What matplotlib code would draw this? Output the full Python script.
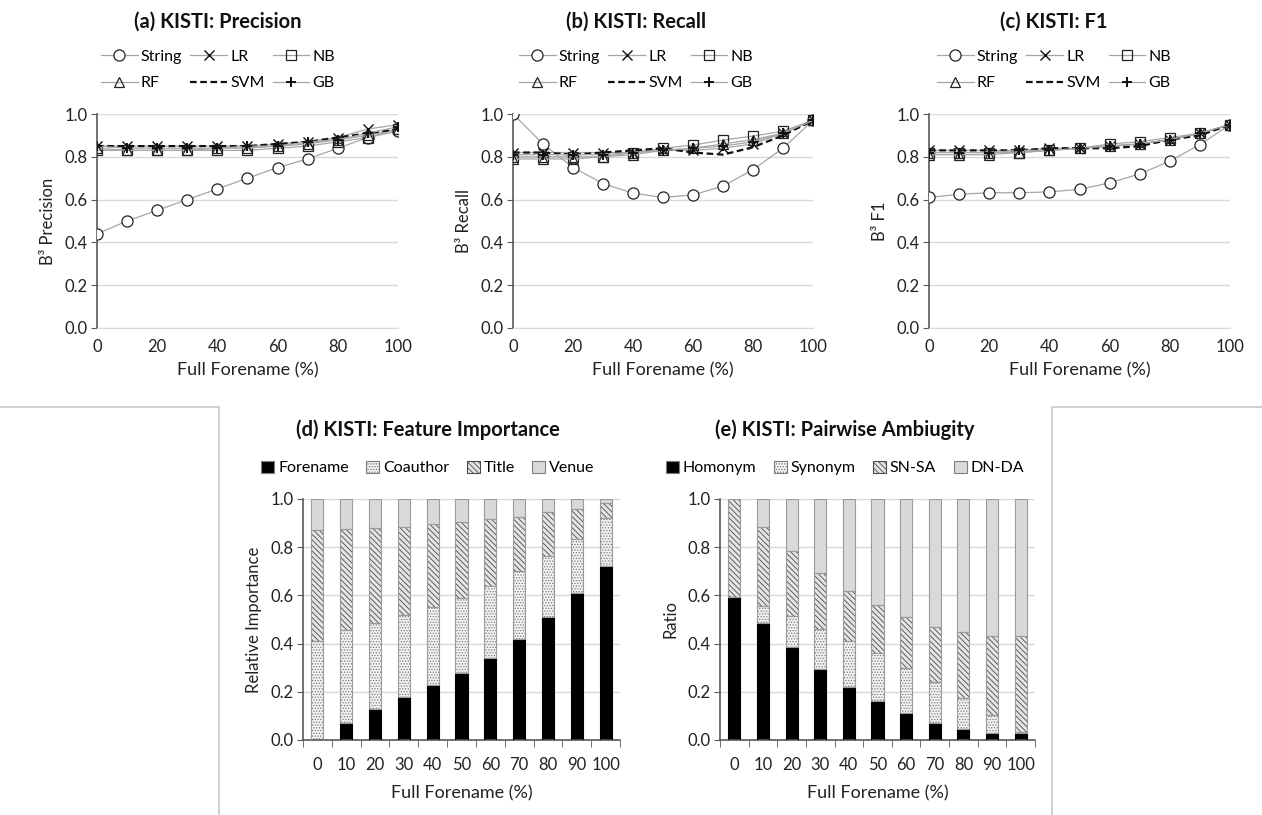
import matplotlib
matplotlib.use("Agg")
import matplotlib.pyplot as plt
from matplotlib.lines import Line2D
from matplotlib.patches import Patch
import numpy as np

plt.rcParams['font.family'] = ['Lato', 'DejaVu Sans']
plt.rcParams['hatch.linewidth'] = 0.6

W, H = 1262, 815

# ---- data: line panels -------------------------------------------------
forename = [0, 10, 20, 30, 40, 50, 60, 70, 80, 90, 100]
methods = ["String", "LR", "NB", "RF", "SVM", "GB"]

prec = {
    "String": [0.44, 0.50, 0.55, 0.60, 0.65, 0.70, 0.75, 0.79, 0.84, 0.89, 0.92],
    "LR":     [0.85, 0.85, 0.85, 0.85, 0.85, 0.85, 0.86, 0.87, 0.89, 0.93, 0.95],
    "NB":     [0.83, 0.83, 0.83, 0.83, 0.83, 0.83, 0.84, 0.85, 0.87, 0.89, 0.93],
    "RF":     [0.84, 0.83, 0.83, 0.83, 0.84, 0.84, 0.85, 0.86, 0.88, 0.90, 0.93],
    "SVM":    [0.85, 0.85, 0.85, 0.85, 0.85, 0.85, 0.86, 0.87, 0.89, 0.91, 0.93],
    "GB":     [0.85, 0.84, 0.84, 0.84, 0.84, 0.85, 0.85, 0.87, 0.88, 0.91, 0.94],
}
recall = {
    "String": [1.00, 0.86, 0.75, 0.675, 0.63, 0.61, 0.622, 0.663, 0.74, 0.84, 0.97],
    "LR":     [0.82, 0.82, 0.82, 0.82, 0.82, 0.83, 0.83, 0.84, 0.86, 0.91, 0.97],
    "NB":     [0.80, 0.80, 0.80, 0.80, 0.82, 0.84, 0.855, 0.878, 0.897, 0.92, 0.97],
    "RF":     [0.79, 0.79, 0.79, 0.80, 0.81, 0.83, 0.84, 0.86, 0.88, 0.91, 0.97],
    "SVM":    [0.82, 0.82, 0.81, 0.82, 0.83, 0.84, 0.82, 0.81, 0.845, 0.90, 0.97],
    "GB":     [0.81, 0.81, 0.81, 0.81, 0.82, 0.83, 0.84, 0.85, 0.87, 0.91, 0.97],
}
f1 = {
    "String": [0.61, 0.625, 0.632, 0.632, 0.636, 0.648, 0.678, 0.72, 0.78, 0.857, 0.95],
    "LR":     [0.83, 0.83, 0.83, 0.83, 0.84, 0.84, 0.85, 0.86, 0.88, 0.91, 0.95],
    "NB":     [0.82, 0.82, 0.82, 0.82, 0.83, 0.84, 0.86, 0.87, 0.89, 0.91, 0.95],
    "RF":     [0.81, 0.81, 0.81, 0.82, 0.83, 0.84, 0.85, 0.86, 0.88, 0.91, 0.95],
    "SVM":    [0.83, 0.83, 0.83, 0.83, 0.84, 0.84, 0.84, 0.85, 0.88, 0.90, 0.95],
    "GB":     [0.82, 0.82, 0.82, 0.83, 0.83, 0.84, 0.85, 0.86, 0.88, 0.91, 0.95],
}

# ---- data: stacked bars ------------------------------------------------
bar_labels = ["0", "10", "20", "30", "40", "50", "60", "70", "80", "90", "100"]
feat_names = ["Forename", "Coauthor", "Title", "Venue"]
feat_forename = [0.00, 0.07, 0.13, 0.18, 0.23, 0.28, 0.34, 0.42, 0.51, 0.61, 0.72]
feat_coauthor = [0.41, 0.385, 0.355, 0.34, 0.32, 0.31, 0.30, 0.28, 0.255, 0.225, 0.20]
feat_title =    [0.46, 0.42, 0.395, 0.365, 0.345, 0.315, 0.275, 0.225, 0.18, 0.125, 0.065]
feat_venue =    [0.13, 0.125, 0.12, 0.115, 0.105, 0.095, 0.085, 0.075, 0.055, 0.04, 0.015]

amb_names = ["Homonym", "Synonym", "SN-SA", "DN-DA"]
amb_homonym = [0.595, 0.485, 0.385, 0.295, 0.22, 0.16, 0.11, 0.07, 0.045, 0.03, 0.03]
amb_synonym = [0.00, 0.07, 0.13, 0.165, 0.19, 0.20, 0.19, 0.17, 0.13, 0.075, 0.005]
amb_snsa =    [0.405, 0.33, 0.27, 0.235, 0.21, 0.20, 0.21, 0.23, 0.275, 0.325, 0.395]
amb_dnda =    [0.00, 0.115, 0.215, 0.305, 0.38, 0.44, 0.49, 0.53, 0.55, 0.57, 0.57]


def ax_px(fig, x0, x1, ytop, ybot):
    return fig.add_axes([x0 / W, 1 - ybot / H, (x1 - x0) / W, (ybot - ytop) / H])


GRAY = "#a6a6a6"
GRID = "#d9d9d9"
AXC = "#595959"
TXT = "#222222"

styles = {
    "String": dict(marker="o", ms=8, mfc="white", mec="#222222", color=GRAY, lw=0.9, mew=0.9),
    "LR": dict(marker="x", ms=6.5, mec="#111111", color=GRAY, lw=0.9, mew=1.0),
    "NB": dict(marker="s", ms=7, mfc="none", mec="#222222", color=GRAY, lw=0.9, mew=0.9),
    "RF": dict(marker="^", ms=6.5, mfc="none", mec="#222222", color=GRAY, lw=0.9, mew=0.9),
    "SVM": dict(marker="None", color="#111111", lw=1.6, ls=(0, (3, 1.6))),
    "GB": dict(marker="+", ms=7.5, mec="#111111", color=GRAY, lw=0.9, mew=1.4),
}

fig = plt.figure(figsize=(W / 100, H / 100), dpi=100)

line_panels = [
    ("(a) KISTI: Precision", "B³ Precision", prec, 97, 398, 218),
    ("(b) KISTI: Recall", "B³ Recall", recall, 513, 813, 636),
    ("(c) KISTI: F1", "B³ F1", f1, 929, 1230, 1054),
]

for title, ylab, data, x0, x1, cx in line_panels:
    ax = ax_px(fig, x0, x1, 114, 328)
    for m in methods:
        ax.plot(forename, data[m], label=m, **styles[m], zorder=3)
    ax.set_xlim(0, 100)
    ax.set_ylim(0, 1.0)
    ax.set_xticks(range(0, 101, 20))
    ax.set_yticks(np.arange(0, 1.01, 0.2))
    ax.set_yticklabels([f"{v:.1f}" for v in np.arange(0, 1.01, 0.2)])
    ax.yaxis.grid(True, color=GRID, lw=1.0)
    ax.set_axisbelow(True)
    for s in ("top", "right"):
        ax.spines[s].set_visible(False)
    ax.spines["left"].set_color(AXC)
    ax.spines["bottom"].set_color(GRID)
    ax.spines["left"].set_linewidth(1.2)
    ax.tick_params(axis="y", length=4, color=AXC, labelsize=12, labelcolor=TXT, pad=3)
    ax.tick_params(axis="x", length=0, labelsize=12, labelcolor=TXT, pad=8)
    ax.set_xlabel("Full Forename (%)", fontsize=13, color=TXT, labelpad=5)
    ax.set_ylabel(ylab, fontsize=12, color=TXT, labelpad=6)
    fig.text(cx / W, 1 - 22 / H, title, ha="center", va="center",
             fontsize=14.5, fontweight="bold", color="#111111")
    h, l = ax.get_legend_handles_labels()
    order = [0, 3, 1, 4, 2, 5]
    fig.legend([h[i] for i in order], [l[i] for i in order], ncol=3,
               loc="center", bbox_to_anchor=(cx / W, 1 - 70 / H),
               frameon=False, fontsize=11.5, handlelength=2.3, columnspacing=0.5,
               handletextpad=0.2, labelspacing=0.75)

# ---- bar panels --------------------------------------------------------
bar_styles = [
    dict(facecolor="#000000", edgecolor="#000000", hatch=None),
    dict(facecolor="#f2f2f2", edgecolor="#7a7a7a", hatch="......"),
    dict(facecolor="#e4e4e4", edgecolor="#4a4a4a", hatch="\\\\\\\\\\\\"),
    dict(facecolor="#d9d9d9", edgecolor="#a6a6a6", hatch=None),
]

bar_panels = [
    ("(d) KISTI: Feature Importance", "Relative Importance", feat_names,
     [feat_forename, feat_coauthor, feat_title, feat_venue], 303, 620, 428),
    ("(e) KISTI: Pairwise Ambiugity", "Ratio", amb_names,
     [amb_homonym, amb_synonym, amb_snsa, amb_dnda], 720, 1035, 845),
]

for title, ylab, names, series, x0, x1, cx in bar_panels:
    ax = ax_px(fig, x0, x1, 499, 740)
    xs = np.arange(len(bar_labels))
    bottom = np.zeros(len(xs))
    handles = []
    for name, vals, st in zip(names, series, bar_styles):
        vals = np.asarray(vals)
        ax.bar(xs, vals, 0.42, bottom=bottom, facecolor=st["facecolor"],
               edgecolor=st["edgecolor"], hatch=st["hatch"], linewidth=0.0, zorder=2)
        ax.bar(xs, vals, 0.42, bottom=bottom, facecolor="none",
               edgecolor="#9a9a9a" if name not in ("Forename", "Homonym") else "#000000",
               linewidth=0.8, zorder=3)
        handles.append(Patch(facecolor=st["facecolor"], edgecolor=st["edgecolor"] if st["hatch"] else "#7f7f7f",
                             hatch=st["hatch"], linewidth=0.8, label=name))
        bottom = bottom + vals
    ax.set_xlim(-0.5, len(xs) - 0.5)
    ax.set_ylim(0, 1.0)
    ax.set_xticks(xs)
    ax.set_xticklabels(bar_labels)
    ax.set_xticks(np.arange(-0.5, len(xs), 1.0), minor=True)
    ax.set_yticks(np.arange(0, 1.01, 0.2))
    ax.set_yticklabels([f"{v:.1f}" for v in np.arange(0, 1.01, 0.2)])
    ax.yaxis.grid(True, color=GRID, lw=1.0)
    ax.set_axisbelow(True)
    for s in ("top", "right"):
        ax.spines[s].set_visible(False)
    ax.spines["left"].set_color(AXC)
    ax.spines["bottom"].set_color(AXC)
    ax.spines["left"].set_linewidth(1.2)
    ax.spines["bottom"].set_linewidth(1.2)
    ax.tick_params(axis="y", length=4, color=AXC, labelsize=12, labelcolor=TXT, pad=3)
    ax.tick_params(axis="x", which="major", length=0, labelsize=12, labelcolor=TXT, pad=12)
    ax.tick_params(axis="x", which="minor", length=5, color=AXC)
    ax.set_xlabel("Full Forename (%)", fontsize=13, color=TXT, labelpad=9)
    ax.set_ylabel(ylab, fontsize=12, color=TXT, labelpad=6)
    fig.text(cx / W, 1 - 430 / H, title, ha="center", va="center",
             fontsize=14.5, fontweight="bold", color="#111111")
    fig.legend(handles=handles, ncol=4, loc="center",
               bbox_to_anchor=(cx / W, 1 - 468 / H), frameon=False, fontsize=11.5,
               handlelength=0.8, handleheight=0.8, handletextpad=0.25, columnspacing=1.1)

# light frame edges around the lower row
fc = "#c8c8c8"
fig.add_artist(Line2D([0, 219 / W, 219 / W], [1 - 407 / H, 1 - 407 / H, 0],
                      transform=fig.transFigure, color=fc, lw=1.2))
fig.add_artist(Line2D([1, 1052 / W, 1052 / W], [1 - 407 / H, 1 - 407 / H, 0],
                      transform=fig.transFigure, color=fc, lw=1.2))

fig.savefig("out.png", dpi=100)
